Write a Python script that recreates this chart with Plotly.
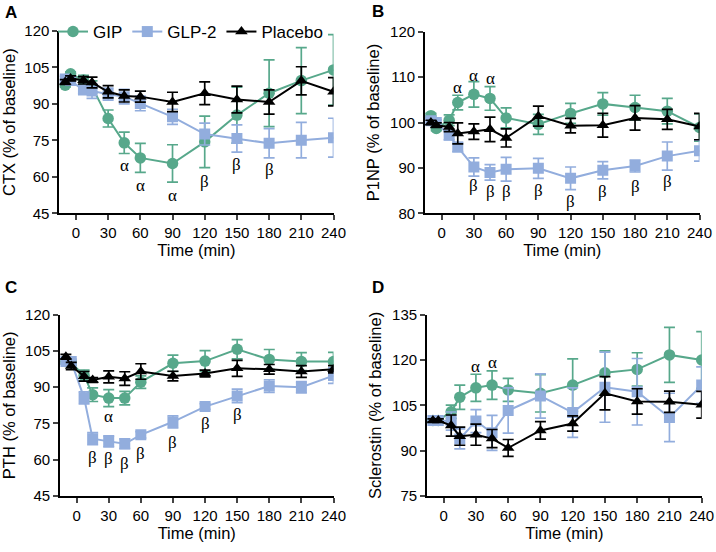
import plotly.graph_objects as go

# ---------------- data ----------------
times = [-10, -5, 7, 15, 30, 45, 60, 90, 120, 150, 180, 210, 240]
series_names = ["GIP", "GLP-2", "Placebo"]

# Panel A: CTX
gip_ctx = [97.7, 102.4, 99.8, 97.0, 84.0, 74.0, 67.8, 65.5, 74.4, 85.4, 94.4, 99.6, 104.0]
gip_ctx_err = [0.8, 0.8, 2.0, 2.5, 3.5, 4.4, 6.0, 7.7, 10.6, 11.5, 13.7, 13.6, 14.5]
glp_ctx = [100.3, 99.6, 95.7, 95.3, 94.0, 93.0, 90.2, 84.7, 77.6, 75.8, 73.8, 75.1, 76.1]
glp_ctx_err = [1.0, 1.0, 1.5, 3.0, 2.5, 3.0, 3.0, 3.1, 4.5, 5.6, 6.0, 7.3, 8.0]
pla_ctx = [99.0, 100.5, 99.7, 98.8, 95.0, 93.3, 93.0, 90.8, 94.4, 91.8, 90.8, 99.5, 95.0]
pla_ctx_err = [1.0, 1.0, 1.5, 2.2, 2.5, 2.5, 2.3, 4.0, 4.7, 5.5, 5.0, 5.8, 5.8]

# Panel B: P1NP
gip_p1np = [101.5, 98.7, 100.5, 104.4, 106.2, 105.3, 101.0, 99.6, 102.0, 104.1, 103.3, 102.5, 98.9]
gip_p1np_err = [0.5, 0.5, 1.2, 1.6, 2.8, 2.6, 2.2, 2.2, 2.2, 2.5, 2.7, 2.8, 3.0]
glp_p1np = [100.4, 100.0, 97.2, 94.6, 90.2, 89.0, 89.7, 89.9, 87.7, 89.5, 90.4, 92.6, 93.8]
glp_p1np_err = [0.6, 0.6, 1.0, 1.0, 2.0, 1.7, 2.6, 2.2, 2.5, 1.9, 1.3, 3.1, 2.3]
pla_p1np = [100.0, 99.4, 99.0, 97.6, 98.0, 98.5, 96.6, 101.4, 99.3, 99.4, 101.0, 100.7, 99.1]
pla_p1np_err = [0.5, 0.5, 1.0, 2.3, 1.7, 2.7, 2.0, 2.2, 1.6, 2.6, 2.7, 2.2, 2.9]

# Panel C: PTH
gip_pth = [100.6, 100.0, 94.9, 86.9, 85.5, 85.5, 92.1, 99.9, 100.8, 105.7, 101.5, 100.6, 100.6]
gip_pth_err = [1.0, 1.0, 2.2, 2.8, 3.5, 2.8, 2.6, 3.4, 4.3, 4.0, 4.1, 3.7, 3.8]
glp_pth = [100.6, 100.6, 85.6, 68.7, 67.6, 66.6, 70.3, 75.7, 82.0, 86.4, 90.5, 90.0, 94.8]
glp_pth_err = [1.0, 1.0, 2.5, 2.5, 2.3, 2.0, 1.3, 2.5, 1.2, 2.8, 2.6, 2.3, 3.2]
pla_pth = [102.6, 98.8, 94.5, 93.0, 94.3, 93.6, 96.5, 94.6, 95.7, 97.8, 97.4, 96.5, 97.4]
pla_pth_err = [1.0, 1.5, 2.0, 1.0, 2.5, 2.8, 3.2, 2.0, 1.4, 3.3, 2.0, 2.4, 1.5]

# Panel D: Sclerostin
gip_scl = [100.0, 100.0, 102.9, 107.7, 110.8, 111.7, 110.1, 109.0, 111.7, 115.8, 116.9, 121.7, 120.0]
gip_scl_err = [0.5, 0.5, 2.2, 4.0, 4.5, 4.7, 3.8, 6.2, 8.7, 7.2, 5.5, 9.1, 9.4]
glp_scl = [100.0, 100.0, 99.8, 93.9, 99.8, 95.9, 103.3, 108.1, 102.6, 111.0, 109.5, 101.0, 111.7]
glp_scl_err = [0.5, 0.5, 3.0, 3.3, 3.8, 5.8, 7.5, 7.3, 8.2, 11.6, 11.0, 8.0, 6.0]
pla_scl = [100.0, 100.0, 98.3, 94.8, 95.3, 94.0, 90.9, 96.7, 99.0, 109.0, 106.3, 106.2, 105.2]
pla_scl_err = [0.5, 0.5, 3.5, 3.0, 3.5, 3.0, 2.8, 2.9, 2.5, 5.5, 4.2, 3.5, 4.4]

# significance marks (time, value, symbol)
sig_ctx = [(45, 64.8, "α"), (60, 56.6, "α"), (90, 52.5, "α"),
           (120, 58.0, "β"), (150, 65.2, "β"), (180, 63.0, "β")]
sig_p1np = [(15, 107.7, "α"), (30, 110.4, "α"), (45, 109.7, "α"),
            (30, 86.2, "β"), (45, 84.7, "β"), (60, 84.7, "β"), (90, 85.1, "β"),
            (120, 82.5, "β"), (150, 84.9, "β"), (180, 86.0, "β"), (210, 86.9, "β")]
sig_pth = [(30, 77.7, "α"), (15, 61.1, "β"), (30, 60.4, "β"), (45, 58.3, "β"),
           (60, 62.5, "β"), (90, 67.0, "β"), (120, 74.9, "β"), (150, 78.6, "β")]
sig_scl = [(30, 118.0, "α"), (45, 119.3, "α")]

x_ticks = [0, 30, 60, 90, 120, 150, 180, 210, 240]
y_ticks_ctx = [45, 60, 75, 90, 105, 120]
y_ticks_p1np = [80, 90, 100, 110, 120]
y_ticks_pth = [45, 60, 75, 90, 105, 120]
y_ticks_scl = [75, 90, 105, 120, 135]

# ---------------- styling ----------------
W, H = 716, 552
colors = {"GIP": "#57A88B", "GLP-2": "#92ADDD", "Placebo": "#000000"}
symbols = {"GIP": "circle", "GLP-2": "square", "Placebo": "triangle-up"}
msize = {"GIP": 11.5, "GLP-2": 11, "Placebo": 11}
FONT = "Liberation Sans, Arial, sans-serif"

panels = [
    dict(letter="A", title="CTX (% of baseline)", yt=y_ticks_ctx,
         data=[(gip_ctx, gip_ctx_err), (glp_ctx, glp_ctx_err), (pla_ctx, pla_ctx_err)],
         sig=sig_ctx, px=(59.3, 333.5), py=(31, 213.3)),
    dict(letter="B", title="P1NP (% of baseline)", yt=y_ticks_p1np,
         data=[(gip_p1np, gip_p1np_err), (glp_p1np, glp_p1np_err), (pla_p1np, pla_p1np_err)],
         sig=sig_p1np, px=(425, 699.5), py=(31.7, 213.3)),
    dict(letter="C", title="PTH (% of baseline)", yt=y_ticks_pth,
         data=[(gip_pth, gip_pth_err), (glp_pth, glp_pth_err), (pla_pth, pla_pth_err)],
         sig=sig_pth, px=(60, 333.5), py=(314.7, 496)),
    dict(letter="D", title="Sclerostin (% of baseline)", yt=y_ticks_scl,
         data=[(gip_scl, gip_scl_err), (glp_scl, glp_scl_err), (pla_scl, pla_scl_err)],
         sig=sig_scl, px=(427, 701.7), py=(314.7, 496)),
]

fig = go.Figure()
annotations = []
layout = {}

for i, p in enumerate(panels):
    n = "" if i == 0 else str(i + 1)
    xa, ya = "x" + n, "y" + n
    for (vals, errs), name in zip(p["data"], series_names):
        fig.add_trace(go.Scatter(
            x=times, y=vals, name=name, xaxis=xa, yaxis=ya,
            mode="lines+markers",
            line=dict(color=colors[name], width=2),
            marker=dict(symbol=symbols[name], size=msize[name], color=colors[name]),
            error_y=dict(type="data", array=errs, visible=True,
                         color=colors[name], thickness=1.7, width=5.5),
            showlegend=(i == 0),
        ))
    x0, x1 = p["px"]
    ytop, ybot = p["py"]
    layout["xaxis" + n] = dict(
        domain=[x0 / W, x1 / W], anchor=ya, range=[-15.5, 240],
        tickvals=x_ticks, ticks="outside", ticklen=5, tickwidth=1.6,
        showline=True, linecolor="black", linewidth=1.8, showgrid=False,
        zeroline=False, tickfont=dict(family=FONT, size=15, color="black"),
        title=dict(text="Time (min)", font=dict(family=FONT, size=16.5, color="black"),
                   standoff=0),
        automargin=False,
    )
    yt = p["yt"]
    layout["yaxis" + n] = dict(
        domain=[1 - ybot / H, 1 - ytop / H], anchor=xa, range=[yt[0], yt[-1]],
        tickvals=yt, ticks="outside", ticklen=5, tickwidth=1.6,
        showline=True, linecolor="black", linewidth=1.8, showgrid=False,
        zeroline=False, tickfont=dict(family=FONT, size=15, color="black"),
        title=dict(text=p["title"], font=dict(family=FONT, size=16.5, color="black"),
                   standoff=6),
        automargin=False,
    )
    for (t, v, s) in p["sig"]:
        annotations.append(dict(x=t, y=v, xref=xa, yref=ya, text=s, showarrow=False,
                                font=dict(family="Liberation Serif, Times New Roman, serif",
                                          size=17, color="black"),
                                xanchor="center", yanchor="middle"))

letter_pos = {"A": (3, 13), "B": (370, 12), "C": (3, 287), "D": (370, 287)}
for p in panels:
    lx, ly = letter_pos[p["letter"]]
    annotations.append(dict(x=lx / W, y=1 - ly / H, xref="paper", yref="paper",
                            text="<b>" + p["letter"] + "</b>", showarrow=False,
                            xanchor="left", yanchor="middle",
                            font=dict(family=FONT, size=17, color="black")))

fig.update_layout(
    width=W, height=H, margin=dict(l=0, r=0, t=0, b=0),
    paper_bgcolor="white", plot_bgcolor="white",
    showlegend=True,
    legend=dict(orientation="h", x=53 / W, y=1 - 32 / H, xanchor="left", yanchor="middle",
                bgcolor="rgba(0,0,0,0)", font=dict(family=FONT, size=17, color="black"),
                itemwidth=30, tracegroupgap=0),
    annotations=annotations,
    **layout,
)

fig.write_html("out.html", config={"displayModeBar": False},
               post_script="document.body.style.margin='0px';document.body.style.overflow='hidden';")
